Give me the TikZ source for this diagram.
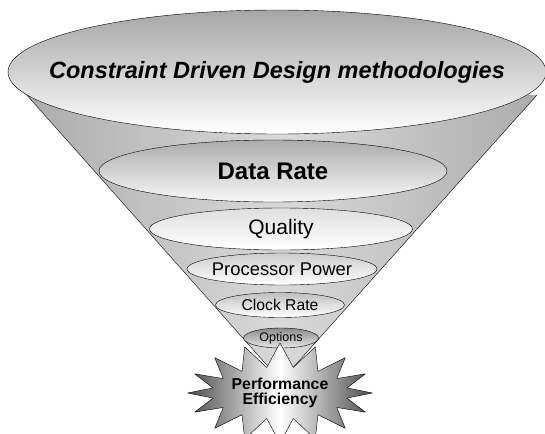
\documentclass[tikz,border=0pt]{standalone}
\usepackage{fontspec}
\setmainfont{Liberation Sans}
\usetikzlibrary{shapes.geometric,shapes.symbols}
\tikzset{
  layer/.style={ellipse, draw, inner sep=0pt, top color=gray!60, bottom color=white},
  cone/.style={left color=gray!65, right color=gray!65, middle color=gray!30},
  burst/.style={starburst, draw, starburst points=16, random starburst=0,
    starburst point height=24pt, inner sep=0pt, align=center,
    left color=black!70, right color=black!70, middle color=white}
}
\newcommand\fs[1]{\fontsize{#1}{#1}\selectfont}
\newcommand\lbl[1]{\makebox[0pt]{#1}}

\begin{document}
\begin{tikzpicture}[x=1pt, y=-1pt, line join=round, thin]
\useasboundingbox (0,0) rectangle (545,433);
% funnel body
\coordinate (cl)   at (25,93);
\coordinate (cr)   at (537,95);
\coordinate (apex) at (281,381);
\shade[cone] (cl) -- (apex) -- (cr) -- cycle;
\draw (cl) -- (apex) -- (cr);
% layers
\node[layer, minimum width=538pt, minimum height=124pt, top color=gray!70,
  font=\fs{23.5}\bfseries\itshape] (top) at (277,72)
  {\lbl{Constraint Driven Design methodologies}};
\node[layer, minimum width=348pt, minimum height=62pt, top color=gray!65, bottom color=gray!5,
  font=\fs{24}\bfseries] (rate) at (273,171) {\lbl{Data Rate}};
\node[layer, minimum width=263pt, minimum height=42pt, top color=gray!25,
  font=\fs{21}] (quality) at (281,229) {\lbl{Quality}};
\node[layer, minimum width=190pt, minimum height=32pt, top color=gray!40,
  font=\fs{18.4}] (power) at (282,269) {\lbl{Processor Power}};
\node[layer, minimum width=129pt, minimum height=25pt, top color=gray!50,
  font=\fs{15.7}] (clock) at (280,305) {\lbl{Clock Rate}};
\node[layer, minimum width=75pt, minimum height=20pt, top color=gray!90, bottom color=gray!20,
  font=\fs{12.5}] (options) at (281,338) {\lbl{Options}};
% result
\node[burst, minimum width=178pt, minimum height=100pt,
  font={\fontsize{15.8}{15.5}\selectfont\bfseries}] (perf) at (280,393)
  {Performance\\Efficiency};
\end{tikzpicture}
\end{document}
